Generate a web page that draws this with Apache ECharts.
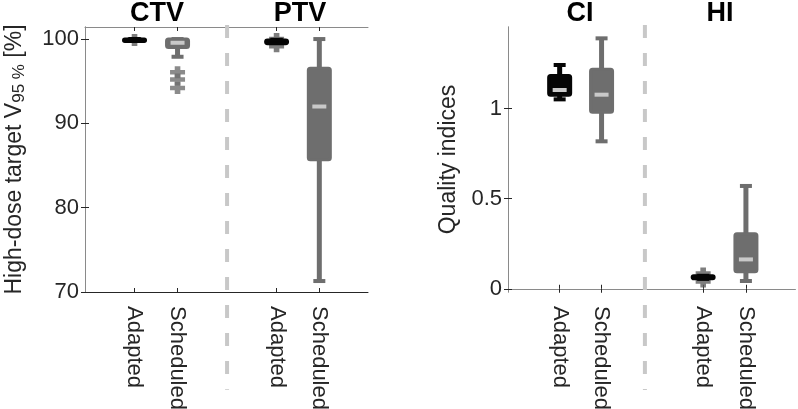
<!DOCTYPE html>
<html><head><meta charset="utf-8">
<script src="https://cdn.jsdelivr.net/npm/echarts@6/dist/echarts.min.js"></script>
<style>html,body{margin:0;padding:0;background:#fff}#c{width:798px;height:409px}</style>
</head><body><div id="c"></div>
<script>
// ---- data ----
const groupTitles = ['CTV', 'PTV', 'CI', 'HI'];
const boxLabels = ['Adapted', 'Scheduled'];
// group positions on each panel's x axis (0..100 scale)
const leftPositions = [17.5, 32.7, 67.7, 82.8];
const rightPositions = [18.0, 32.6, 68.0, 82.9];
const leftDivider = 50.2;
const rightDivider = 47.7;
// [low whisker, q1, median, q3, high whisker]
const ctvAdapted   = [100, 99.7, 100, 100, 100];
const ctvScheduled = [97.9, 99.0, 99.56, 100, 100];
const ptvAdapted   = [99.9, 99.45, 99.7, 99.9, 99.9];
const ptvScheduled = [71.3, 85.7, 92.0, 96.55, 100];
const ciAdapted    = [1.052, 1.075, 1.104, 1.184, 1.243];
const ciScheduled  = [0.819, 0.981, 1.078, 1.219, 1.391];
const hiAdapted    = [0.055, 0.055, 0.063, 0.072, 0.072];
const hiScheduled  = [0.043, 0.094, 0.163, 0.305, 0.571];
// outliers
const ctvAdaptedOut   = [99.9];
const ctvScheduledOut = [96.06, 95.2, 94.2];
const ptvAdaptedOut   = [100.0, 99.15];
const hiAdaptedOut    = [0.085, 0.04];
// axis ticks
const leftTicks = [70, 80, 90, 100];
const rightTicks = [0, 0.5, 1];

// ---- styles ----
const FONT = 'Liberation Sans, Arial, Helvetica, sans-serif';
const C_ADAPT = '#050505';
const C_SCHED = '#6e6e6e';
const C_OUT_ADAPT = '#5e5e5e';
const C_MED = '#c9c9c9';
const C_DIV = '#c8c8c8';
const PLUS = 'path://M5,0H11V5H16V11H11V16H5V11H0V5H5Z';

function renderBox(params, api) {
  const x = api.value(0);
  const lo = api.coord([x, api.value(1)]);
  const q1 = api.coord([x, api.value(2)]);
  const md = api.coord([x, api.value(3)]);
  const q3 = api.coord([x, api.value(4)]);
  const hi = api.coord([x, api.value(5)]);
  const color = api.visual('color');
  const cx = lo[0];
  const boxW = 22, capW = 12;
  const ch = [
    {type: 'line', shape: {x1: cx, y1: hi[1], x2: cx, y2: lo[1]}, style: {stroke: color, lineWidth: 5}},
    {type: 'line', shape: {x1: cx - capW / 2, y1: hi[1], x2: cx + capW / 2, y2: hi[1]}, style: {stroke: color, lineWidth: 4}},
    {type: 'line', shape: {x1: cx - capW / 2, y1: lo[1], x2: cx + capW / 2, y2: lo[1]}, style: {stroke: color, lineWidth: 4}},
    {type: 'rect', shape: {x: cx - boxW / 2, y: q3[1], width: boxW, height: Math.max(0, q1[1] - q3[1]), r: 2},
      style: {fill: color, stroke: color, lineWidth: 3, lineJoin: 'round'}}
  ];
  if (q1[1] - q3[1] > 6) {
    ch.push({type: 'line', shape: {x1: cx - 7, y1: md[1], x2: cx + 7, y2: md[1]}, style: {stroke: C_MED, lineWidth: 4}});
  }
  return {type: 'group', children: ch};
}

function boxData(pos, arrs) { return arrs.map((a, i) => [pos[i]].concat(a)); }
function outData(list) {
  const out = [];
  list.forEach(([p, vals]) => vals.forEach(v => out.push([p, v])));
  return out;
}

const axisLabelStyle = {fontFamily: FONT, fontSize: 22, color: '#262626'};

function xAxes(gridIndex, positions) {
  const labelOf = v => {
    const i = positions.findIndex(p => Math.abs(p - v) < 1e-6);
    return i < 0 ? '' : boxLabels[i % 2];
  };
  return [
    {type: 'value', gridIndex, min: 0, max: 100, position: 'bottom',
      axisLine: {lineStyle: {color: '#262626', width: 1}},
      axisTick: {inside: true, length: 4, customValues: positions, lineStyle: {color: '#262626'}},
      axisLabel: Object.assign({customValues: positions, rotate: -90, margin: 14, formatter: labelOf}, axisLabelStyle),
      splitLine: {show: false}},
    {type: 'value', gridIndex, min: 0, max: 100, position: 'top',
      axisLine: {lineStyle: {color: '#8a8a8a', width: 1}},
      axisTick: {inside: true, length: 4, customValues: positions, lineStyle: {color: '#262626'}},
      axisLabel: {show: false}, splitLine: {show: false}}
  ];
}

function yAxes(gridIndex, min, max, ticks, name, nameGap, rich) {
  return [
    {type: 'value', gridIndex, min, max, position: 'left',
      name, nameLocation: 'middle', nameGap, nameRotate: 90,
      nameTextStyle: {fontFamily: FONT, fontSize: 23, color: '#262626', rich: rich || {}},
      axisLine: {show: true, lineStyle: {color: '#8a8a8a', width: 1}},
      axisTick: {show: true, inside: true, length: 4, customValues: ticks, lineStyle: {color: '#262626'}},
      axisLabel: Object.assign({customValues: ticks, margin: 6}, axisLabelStyle),
      splitLine: {show: false}},
    {type: 'value', gridIndex, min, max, position: 'right',
      axisLine: {show: true, lineStyle: {color: '#8a8a8a', width: 1}},
      axisTick: {show: true, inside: true, length: 4, customValues: ticks, lineStyle: {color: '#262626'}},
      axisLabel: {show: false}, splitLine: {show: false}}
  ];
}

const chart = echarts.init(document.getElementById('c'), null, {renderer: 'canvas'});

const titleStyle = {fontFamily: FONT, fontSize: 27, fontWeight: 'bold', color: '#000'};
const titleCenters = [157, 300, 580, 720];

const option = {
  animation: false,
  backgroundColor: '#fff',
  title: groupTitles.map((t, i) => ({text: t, left: titleCenters[i], top: 0, textAlign: 'center', padding: 0, textStyle: titleStyle})),
  grid: [
    {left: 85, top: 27, width: 283, height: 265, outerBoundsMode: 'none', containLabel: false},
    {left: 508, top: 27, width: 287, height: 265, outerBoundsMode: 'none', containLabel: false}
  ],
  xAxis: xAxes(0, leftPositions).concat(xAxes(1, rightPositions)),
  yAxis: yAxes(0, 70, 101.43, leftTicks, 'High-dose target V{sub|95 %} [%]', 57,
          {sub: {fontFamily: FONT, fontSize: 17, color: '#262626', verticalAlign: 'bottom', padding: [10, 0, 0, 0]}})
        .concat(yAxes(1, -0.018, 1.454, rightTicks, 'Quality indices', 48)),
  series: [
    // dividers
    {type: 'line', xAxisIndex: 0, yAxisIndex: 0, clip: false, silent: true, showSymbol: false, z: 1,
      data: [[leftDivider, 101.67], [leftDivider, 58.4]],
      lineStyle: {color: C_DIV, width: 4, type: [13, 15]}},
    {type: 'line', xAxisIndex: 2, yAxisIndex: 2, clip: false, silent: true, showSymbol: false, z: 1,
      data: [[rightDivider, 1.465], [rightDivider, -0.563]],
      lineStyle: {color: C_DIV, width: 4, type: [13, 15]}},
    // outliers
    {type: 'scatter', xAxisIndex: 0, yAxisIndex: 0, symbol: PLUS, symbolSize: [15, 12], z: 2,
      itemStyle: {color: C_OUT_ADAPT},
      data: outData([[leftPositions[0], ctvAdaptedOut], [leftPositions[2], ptvAdaptedOut]])},
    {type: 'scatter', xAxisIndex: 0, yAxisIndex: 0, symbol: PLUS, symbolSize: [15, 12], z: 2,
      itemStyle: {color: C_SCHED},
      data: outData([[leftPositions[1], ctvScheduledOut]])},
    {type: 'scatter', xAxisIndex: 2, yAxisIndex: 2, symbol: PLUS, symbolSize: [15, 12], z: 2,
      itemStyle: {color: C_OUT_ADAPT},
      data: outData([[rightPositions[2], hiAdaptedOut]])},
    // boxes
    {type: 'custom', xAxisIndex: 0, yAxisIndex: 0, z: 3, renderItem: renderBox, itemStyle: {color: C_ADAPT},
      encode: {x: 0, y: [1, 2, 3, 4, 5]},
      data: boxData([leftPositions[0], leftPositions[2]], [ctvAdapted, ptvAdapted])},
    {type: 'custom', xAxisIndex: 0, yAxisIndex: 0, z: 3, renderItem: renderBox, itemStyle: {color: C_SCHED},
      encode: {x: 0, y: [1, 2, 3, 4, 5]},
      data: boxData([leftPositions[1], leftPositions[3]], [ctvScheduled, ptvScheduled])},
    {type: 'custom', xAxisIndex: 2, yAxisIndex: 2, z: 3, renderItem: renderBox, itemStyle: {color: C_ADAPT},
      encode: {x: 0, y: [1, 2, 3, 4, 5]},
      data: boxData([rightPositions[0], rightPositions[2]], [ciAdapted, hiAdapted])},
    {type: 'custom', xAxisIndex: 2, yAxisIndex: 2, z: 3, renderItem: renderBox, itemStyle: {color: C_SCHED},
      encode: {x: 0, y: [1, 2, 3, 4, 5]},
      data: boxData([rightPositions[1], rightPositions[3]], [ciScheduled, hiScheduled])}
  ]
};
chart.setOption(option);
</script></body></html>
